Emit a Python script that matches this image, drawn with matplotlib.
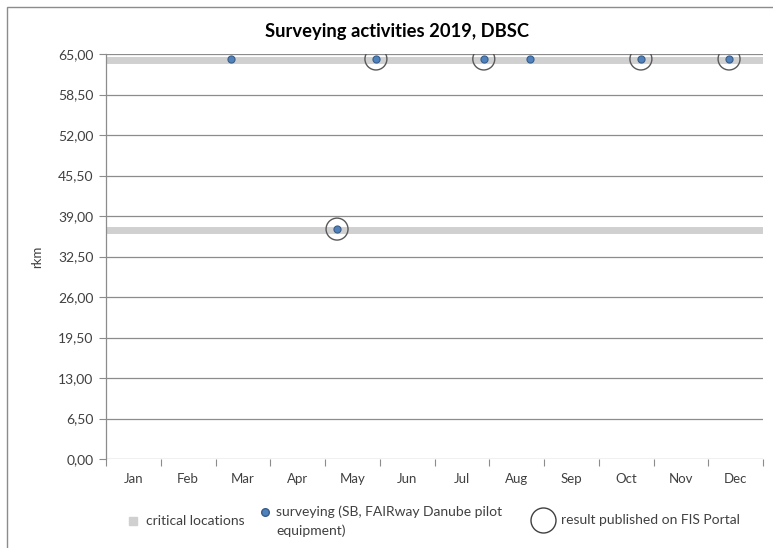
import matplotlib
matplotlib.use("Agg")
import matplotlib.pyplot as plt
from matplotlib.patches import Rectangle
from matplotlib.lines import Line2D
import numpy as np

plt.rcParams['font.family'] = ['Lato', 'DejaVu Sans']

# Data
months = ["Jan", "Feb", "Mar", "Apr", "May", "Jun", "Jul", "Aug", "Sep", "Oct", "Nov", "Dec"]
critical_rkm = [64.1, 36.8]
survey_month = [2.78, 4.72, 5.43, 7.40, 8.24, 10.27, 11.88]
survey_rkm = [64.2, 36.9, 64.2, 64.2, 64.2, 64.2, 64.2]
published_month = [4.72, 5.43, 7.40, 10.27, 11.88]
published_rkm = [36.9, 64.2, 64.2, 64.2, 64.2]
y_ticks = [0.0, 6.5, 13.0, 19.5, 26.0, 32.5, 39.0, 45.5, 52.0, 58.5, 65.0]

W, H = 773, 548
fig = plt.figure(figsize=(W / 100, H / 100), dpi=100)
ax = fig.add_axes([106 / W, 1 - 459 / H, (763 - 106) / W, (459 - 54) / H])


def fx(px):
    return px / W


def fy(py):
    return 1 - py / H


# chart frame
fig.patches.append(Rectangle((fx(7), -0.01), 1.0, fy(7) + 0.01,
                             transform=fig.transFigure, fill=False,
                             edgecolor="#8c8c8c", linewidth=1.0))

x0, x1 = 0.5, len(months) + 0.5
ax.set_xlim(x0, x1)
ax.set_ylim(0, 65)

# grid
for y in y_ticks:
    ax.axhline(y, color="#8c8c8c", linewidth=0.9, zorder=1)

# critical locations
for y in critical_rkm:
    ax.plot([x0, x1], [y, y], color="#d0d0d0", linewidth=5, solid_capstyle="butt", zorder=2)

# surveying
ax.scatter(survey_month, survey_rkm, s=26, color="#4f81bd", edgecolors="#385d8a",
           linewidths=0.8, zorder=4)

# published
ax.scatter(published_month, published_rkm, s=250, facecolors="none",
           edgecolors="#595959", linewidths=1.0, zorder=3)

# axes styling
for s in ["top", "right", "bottom"]:
    ax.spines[s].set_visible(False)
ax.spines["left"].set_color("#8c8c8c")
ax.spines["left"].set_linewidth(0.9)

ax.set_yticks(y_ticks)
ax.set_yticklabels([f"{v:.2f}".replace(".", ",") for v in y_ticks], fontsize=10, color="#404040")
ax.tick_params(axis="y", length=5, color="#8c8c8c", pad=4)

ax.set_xticks(np.arange(0.5, len(months) + 1, 1.0))
ax.set_xticklabels([])
ax.set_xticks(np.arange(1, len(months) + 1), minor=True)
ax.set_xticklabels(months, minor=True, fontsize=9.5, color="#404040")
ax.tick_params(axis="x", which="major", length=5, color="#8c8c8c")
ax.tick_params(axis="x", which="minor", length=0, pad=10)

ax.set_ylabel("rkm", fontsize=9.5, color="#404040", labelpad=11)

fig.text(fx(397), fy(32), "Surveying activities 2019, DBSC", ha="center",
         va="center", fontsize=13.2, fontweight="bold", color="#000000")

# legend below the plot
legend_color = "#404040"
fig.add_artist(Line2D([fx(133)], [fy(521)], transform=fig.transFigure, linestyle="none",
                      marker="s", markersize=6, color="#d0d0d0"))
fig.text(fx(146), fy(521), "critical locations", ha="left", va="center",
         fontsize=10, color=legend_color)

fig.add_artist(Line2D([fx(265)], [fy(512)], transform=fig.transFigure, linestyle="none",
                      marker="o", markersize=5.5, markerfacecolor="#4f81bd",
                      markeredgecolor="#385d8a"))
fig.text(fx(276), fy(512), "surveying (SB, FAIRway Danube pilot", ha="left", va="center",
         fontsize=10, color=legend_color)
fig.text(fx(276), fy(531), "equipment)", ha="left", va="center",
         fontsize=10, color=legend_color)

fig.add_artist(Line2D([fx(543)], [fy(520)], transform=fig.transFigure, linestyle="none",
                      marker="o", markersize=18, markerfacecolor="none",
                      markeredgecolor=legend_color, markeredgewidth=1.0))
fig.text(fx(561), fy(520), "result published on FIS Portal", ha="left", va="center",
         fontsize=10, color=legend_color)

fig.savefig("out.png", dpi=100)
